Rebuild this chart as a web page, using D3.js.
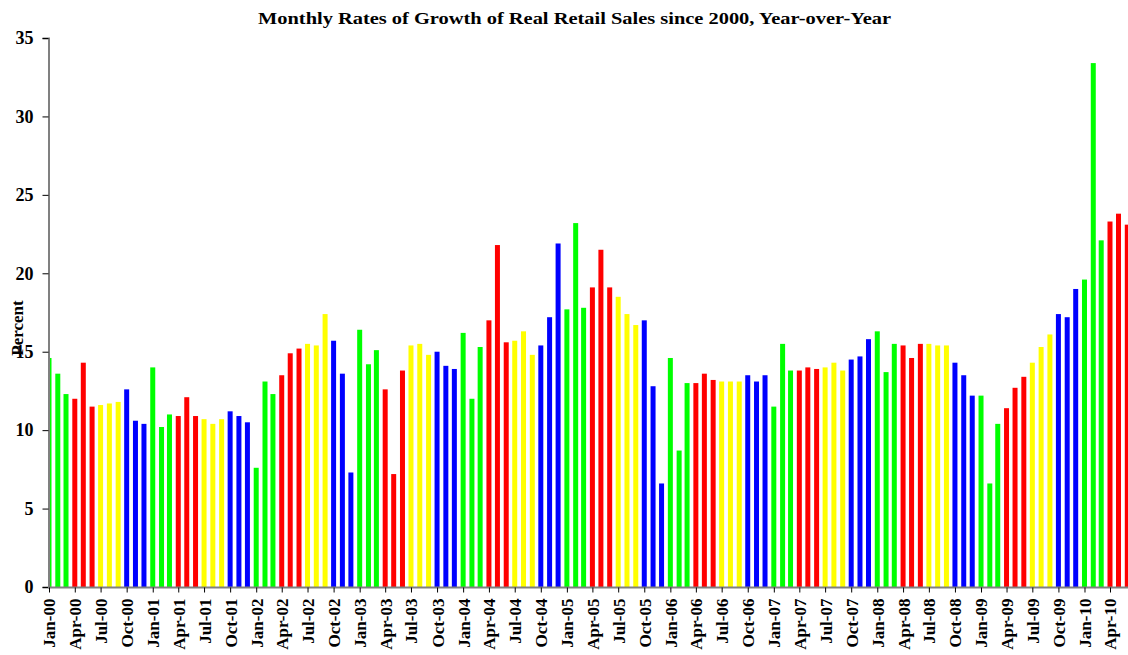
<!DOCTYPE html>
<head>
  <meta charset="utf-8">
  <script src="https://cdnjs.cloudflare.com/ajax/libs/d3/7.8.5/d3.min.js"></script>
  <style>
    body { margin: 0; background: white; }
    svg text { font-family: "Liberation Serif", "Times New Roman", serif; font-weight: bold; }
  </style>
</head>
<body>
  <div id="chartDiv"></div>
  <script>

  // first month and growth rates (percent, year-over-year), Jan-00 .. Jun-10
  var startYear = 2000;
  var growth = [
    14.6, 13.6, 12.3, 12.0, 14.3, 11.5, 11.6, 11.7, 11.8, 12.6, 10.6, 10.4,
    14.0, 10.2, 11.0, 10.9, 12.1, 10.9, 10.7, 10.4, 10.7, 11.2, 10.9, 10.5,
    7.6, 13.1, 12.3, 13.5, 14.9, 15.2, 15.5, 15.4, 17.4, 15.7, 13.6, 7.3,
    16.4, 14.2, 15.1, 12.6, 7.2, 13.8, 15.4, 15.5, 14.8, 15.0, 14.1, 13.9,
    16.2, 12.0, 15.3, 17.0, 21.8, 15.6, 15.7, 16.3, 14.8, 15.4, 17.2, 21.9,
    17.7, 23.2, 17.8, 19.1, 21.5, 19.1, 18.5, 17.4, 16.7, 17.0, 12.8, 6.6,
    14.6, 8.7, 13.0, 13.0, 13.6, 13.2, 13.1, 13.1, 13.1, 13.5, 13.1, 13.5,
    11.5, 15.5, 13.8, 13.8, 14.0, 13.9, 14.0, 14.3, 13.8, 14.5, 14.7, 15.8,
    16.3, 13.7, 15.5, 15.4, 14.6, 15.5, 15.5, 15.4, 15.4, 14.3, 13.5, 12.2,
    12.2, 6.6, 10.4, 11.4, 12.7, 13.4, 14.3, 15.3, 16.1, 17.4, 17.2, 19.0,
    19.6, 33.4, 22.1, 23.3, 23.8, 23.1
  ];
  var yTicks = [0, 5, 10, 15, 20, 25, 30, 35];
  var quarterColors = ["#00ff00", "#ff0000", "#ffff00", "#0000ff"];
  var titleText = "Monthly Rates of Growth of Real Retail Sales since 2000, Year-over-Year";
  var yLabel = "Percent";

  var width = 1128;
  var height = 655;

  var data = growth.map(function(v, i) {
    return { date: new Date(startYear + Math.floor(i / 12), i % 12, 1), value: v };
  });

  var svg = d3.select("#chartDiv").append("svg")
    .attr("width", width)
    .attr("height", height);

  var x = d3.scaleTime()
    .domain([new Date(2000, 0, 1), new Date(2010, 3, 1)])
    .range([49, 1110]);

  var y = d3.scaleLinear()
    .domain([0, 35])
    .range([587, 38]);

  svg.append("clipPath")
    .attr("id", "plotClip")
    .append("rect")
    .attr("x", 48.5)
    .attr("y", 0)
    .attr("width", width - 48.5)
    .attr("height", 588);

  var barWidth = 5;

  svg.append("g")
    .attr("clip-path", "url(#plotClip)")
    .selectAll("rect")
    .data(data)
    .enter()
    .append("rect")
    .attr("x", function(d) { return x(d.date) - barWidth / 2; })
    .attr("y", function(d) { return y(d.value); })
    .attr("width", barWidth)
    .attr("height", function(d) { return y(0) - y(d.value); })
    .style("fill", function(d) { return quarterColors[Math.floor(d.date.getMonth() / 3)]; });

  // y axis
  var yAxis = svg.append("g")
    .attr("transform", "translate(48.5,0)")
    .call(d3.axisLeft(y).tickValues(yTicks).tickSize(6).tickPadding(9));
  yAxis.select(".domain").attr("stroke", "#808080").attr("stroke-width", 2);
  yAxis.selectAll(".tick line").attr("stroke", "#000");
  yAxis.selectAll(".tick text")
    .style("font-size", "18px")
    .attr("fill", "#000");

  // x axis
  var xAxis = svg.append("g")
    .attr("transform", "translate(0,587.5)")
    .call(d3.axisBottom(x)
      .ticks(d3.timeMonth.every(3))
      .tickFormat(d3.timeFormat("%b-%y"))
      .tickSizeInner(5)
      .tickSizeOuter(0));
  xAxis.select(".domain")
    .attr("d", "M48," + 0 + "H" + width)
    .attr("stroke", "#808080").attr("stroke-width", 2);
  xAxis.selectAll(".tick line").attr("stroke", "#000");
  xAxis.selectAll(".tick text")
    .style("font-size", "17px")
    .attr("fill", "#000")
    .attr("text-anchor", "end")
    .attr("dy", "0.35em")
    .attr("transform", "translate(0,11) rotate(-90)")
    .attr("x", 0)
    .attr("y", 0);

  // title (the original is drawn wider than the font's natural width)
  svg.append("text")
    .attr("x", 258)
    .attr("y", 24)
    .attr("textLength", 633)
    .attr("lengthAdjust", "spacingAndGlyphs")
    .style("font-size", "16px")
    .text(titleText);

  // y label
  svg.append("text")
    .attr("transform", "translate(23,328) rotate(-90)")
    .attr("text-anchor", "middle")
    .style("font-size", "17px")
    .text(yLabel);

  </script>
</body>
